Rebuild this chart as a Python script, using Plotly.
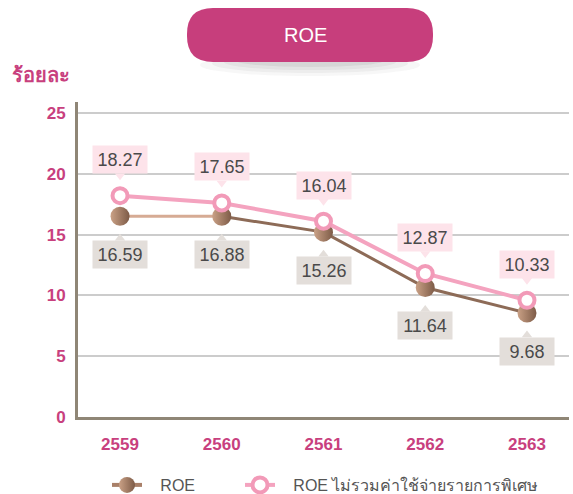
import plotly.graph_objects as go

# ---- data ----
years = ["2559", "2560", "2561", "2562", "2563"]
roe = [16.5, 16.5, 15.2, 10.65, 8.55]
roe_labels = ["16.59", "16.88", "15.26", "11.64", "9.68"]
roe_ex = [18.2, 17.6, 16.1, 11.8, 9.6]
roe_ex_labels = ["18.27", "17.65", "16.04", "12.87", "10.33"]
y_ticks = [0, 5, 10, 15, 20, 25]
series_names = ["ROE", "ROE ไม่รวมค่าใช้จ่ายรายการพิเศษ"]

W, H = 573, 494
L, R, T, B = 78, 4, 102, 77
PW, PH = W - L - R, H - T - B
YMAX = 25.9
UNIT = PH / YMAX  # px per y unit


def px(x):
    return (x - L) / PW


def py(y):
    return (H - B - y) / PH


NB = "\u00a0"
xs = list(range(len(years)))
MAGENTA = "#c8407e"
BROWN = "#8d6b57"
PINK = "#f4a3bf"
FONT = "Liberation Sans, Arial, sans-serif"

fig = go.Figure()

# lighter first segment of the ROE line
fig.add_trace(go.Scatter(
    x=xs[:2], y=roe[:2], mode="lines", showlegend=False,
    line=dict(color="#d6ab94", width=3), hoverinfo="skip",
))
fig.add_trace(go.Scatter(
    x=xs[1:], y=roe[1:], mode="lines", showlegend=False,
    line=dict(color=BROWN, width=3), hoverinfo="skip",
))
fig.add_trace(go.Scatter(
    x=xs, y=roe, mode="markers", name=NB * 3 + series_names[0] + NB * 9,
    marker=dict(size=19, color="#caa186",
                gradient=dict(type="horizontal", color="#7d5b47"),
                line=dict(width=0)),
    hoverinfo="skip",
))
# legend proxy for the ROE line + marker
fig.add_trace(go.Scatter(
    x=[None], y=[None], mode="lines+markers", name=NB * 3 + series_names[0] + NB * 9,
    line=dict(color="#a98069", width=4),
    marker=dict(size=19, color="#caa186",
                gradient=dict(type="horizontal", color="#7d5b47"),
                line=dict(width=0)),
    hoverinfo="skip",
))
fig.data[2].showlegend = False

fig.add_trace(go.Scatter(
    x=xs, y=roe_ex, mode="lines+markers", name=NB * 3 + series_names[1],
    line=dict(color=PINK, width=4),
    marker=dict(size=15, color="white", line=dict(color="#f29ab8", width=4)),
    hoverinfo="skip",
))

# little pointers of the callouts
fig.add_trace(go.Scatter(
    x=xs, y=[v + 20 / UNIT for v in roe_ex], mode="markers", showlegend=False,
    marker=dict(symbol="triangle-down", size=9, color="#fde3ea"), hoverinfo="skip",
))
fig.add_trace(go.Scatter(
    x=xs, y=[v - 22 / UNIT for v in roe], mode="markers", showlegend=False,
    marker=dict(symbol="triangle-up", size=9, color="#e3deda"), hoverinfo="skip",
))

ann = []
for x, v, t in zip(xs, roe_ex, roe_ex_labels):
    ann.append(dict(x=x, y=v, text=t, showarrow=False, yshift=36,
                    bgcolor="#fde3ea", width=54, height=27, borderpad=0,
                    font=dict(size=18, color="#4a4a4a", family=FONT)))
for x, v, t in zip(xs, roe, roe_labels):
    ann.append(dict(x=x, y=v, text=t, showarrow=False, yshift=-38,
                    bgcolor="#e3deda", width=54, height=27, borderpad=0,
                    font=dict(size=18, color="#4a4a4a", family=FONT)))

# title text and y-axis title
ann.append(dict(xref="paper", yref="paper", x=px(305), y=py(35),
                xanchor="center", yanchor="middle", text="ROE",
                showarrow=False, font=dict(size=20, color="white", family=FONT)))
ann.append(dict(xref="paper", yref="paper", x=px(10), y=py(75),
                xanchor="left", yanchor="middle",
                text="<b>ร้อยละ</b>", showarrow=False,
                font=dict(size=20, color=MAGENTA, family=FONT)))

shapes = []
# shadow beneath the title pill
for i, a in enumerate([0.04, 0.05, 0.06, 0.08]):
    shapes.append(dict(type="circle", xref="paper", yref="paper",
                       x0=px(200 + i * 12), x1=px(420 - i * 12),
                       y0=py(54), y1=py(76 - i * 3),
                       fillcolor=f"rgba(60,60,60,{a})", line=dict(width=0)))
# title pill
x0, x1, y0, y1, r = 187, 433, 8, 62, 26
pts = [
    ("M", (x0 + r, y0)), ("L", (x1 - r, y0)), ("Q", (x1, y0), (x1, y0 + r)),
    ("L", (x1, y1 - r)), ("Q", (x1, y1), (x1 - r, y1)), ("L", (x0 + r, y1)),
    ("Q", (x0, y1), (x0, y1 - r)), ("L", (x0, y0 + r)), ("Q", (x0, y0), (x0 + r, y0)),
]
path = ""
for seg in pts:
    path += seg[0] + " " + " ".join(f"{px(a):.5f},{py(b):.5f}" for a, b in seg[1:]) + " "
path += "Z"
shapes.append(dict(type="path", xref="paper", yref="paper", path=path,
                   fillcolor="#c73e7c", line=dict(width=0)))

fig.update_layout(
    width=W, height=H,
    margin=dict(l=L, r=R, t=T, b=B, autoexpand=False),
    paper_bgcolor="white", plot_bgcolor="white",
    font=dict(family=FONT),
    showlegend=True,
    legend=dict(orientation="h", x=px(107), y=py(485), xanchor="left", yanchor="middle",
                font=dict(size=16, color="#555555", family=FONT),
                itemsizing="trace"),
    annotations=ann, shapes=shapes,
    xaxis=dict(range=[-0.413, 4.413], tickvals=xs, ticktext=years,
               showgrid=False, zeroline=False, showline=True,
               linecolor="#8f8676", linewidth=3,
               tickfont=dict(size=17, color=MAGENTA, family=FONT, weight="bold"),
               ticks="outside", ticklen=10, tickcolor="rgba(0,0,0,0)",
               fixedrange=True),
    yaxis=dict(range=[0, YMAX], tickvals=y_ticks,
               showgrid=True, gridcolor="#cccccc", gridwidth=1.5,
               zeroline=False, showline=True,
               linecolor="#8f8676", linewidth=3,
               tickfont=dict(size=17, color=MAGENTA, family=FONT, weight="bold"),
               ticks="outside", ticklen=6, tickcolor="rgba(0,0,0,0)",
               fixedrange=True),
)

fig.write_html("out.html", config={"displayModeBar": False},
               post_script="document.body.style.margin='0';")
